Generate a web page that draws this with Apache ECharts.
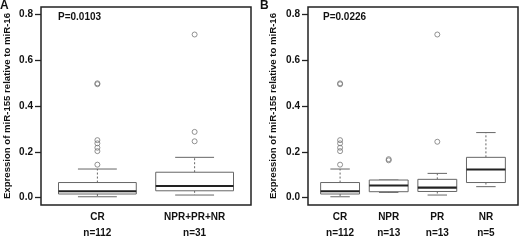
<!DOCTYPE html>
<html>
<head>
<meta charset="utf-8">
<script src="https://cdn.jsdelivr.net/npm/echarts@6/dist/echarts.min.js"></script>
<style>
html, body { margin: 0; padding: 0; background: #fff; }
#chart { width: 520px; height: 241px; }
</style>
</head>
<body>
<div id="chart"></div>
<script>
// panel A
var catsA = ['CR', 'NPR+PR+NR'];
var countsA = ['n=112', 'n=31'];
// low whisker, q1, median, q3, high whisker
var statsA = [
    [0.004, 0.016, 0.028, 0.066, 0.125],
    [0.0115, 0.030, 0.051, 0.111, 0.176]
];
var outliersA = [
    [0.495, 0.499, 0.251, 0.237, 0.218, 0.203, 0.144],
    [0.712, 0.287, 0.246]
];
var pA = 'P=0.0103';

// panel B
var catsB = ['CR', 'NPR', 'PR', 'NR'];
var countsB = ['n=112', 'n=13', 'n=13', 'n=5'];
var statsB = [
    [0.004, 0.016, 0.028, 0.066, 0.125],
    [0.023, 0.026, 0.053, 0.077, 0.077],
    [0.0115, 0.027, 0.044, 0.080, 0.106],
    [0.048, 0.066, 0.123, 0.176, 0.284]
];
var outliersB = [
    [0.495, 0.499, 0.251, 0.237, 0.218, 0.203, 0.144],
    [0.163, 0.168],
    [0.712, 0.244],
    []
];
var pB = 'P=0.0226';

var yTicks = [0, 0.2, 0.4, 0.6, 0.8];
var yTitle = 'Expression of miR-155 relative to miR-16';

var FONT = "'Liberation Sans', Arial, sans-serif";

function boxData(stats) {
    var out = [];
    for (var i = 0; i < stats.length; ++i) {
        out.push([i + 1].concat(stats[i]));
    }
    return out;
}
function outlierData(outs) {
    var out = [];
    for (var i = 0; i < outs.length; ++i) {
        for (var j = 0; j < outs[i].length; ++j) {
            out.push([i + 1, outs[i][j]]);
        }
    }
    return out;
}
function positions(cats) {
    var out = [];
    for (var i = 0; i < cats.length; ++i) out.push(i + 1);
    return out;
}

function renderBox(params, api) {
    var x = api.value(0);
    var lo = api.coord([x, api.value(1)]);
    var q1 = api.coord([x, api.value(2)]);
    var md = api.coord([x, api.value(3)]);
    var q3 = api.coord([x, api.value(4)]);
    var hi = api.coord([x, api.value(5)]);
    var w = api.size([0.8, 0])[0];
    var cx = lo[0];
    var gray = '#666';
    var dashed = { stroke: gray, lineWidth: 1, lineDash: [2, 2] };
    var solid = { stroke: gray, lineWidth: 1 };
    return {
        type: 'group',
        children: [
            { type: 'line', shape: { x1: cx, y1: q3[1], x2: cx, y2: hi[1] }, style: dashed },
            { type: 'line', shape: { x1: cx, y1: q1[1], x2: cx, y2: lo[1] }, style: dashed },
            { type: 'line', shape: { x1: cx - w / 4, y1: hi[1], x2: cx + w / 4, y2: hi[1] }, style: solid },
            { type: 'line', shape: { x1: cx - w / 4, y1: lo[1], x2: cx + w / 4, y2: lo[1] }, style: solid },
            { type: 'rect', shape: { x: cx - w / 2, y: q3[1], width: w, height: q1[1] - q3[1] },
              style: { fill: '#fff', stroke: gray, lineWidth: 1 } },
            { type: 'line', shape: { x1: cx - w / 2, y1: md[1], x2: cx + w / 2, y2: md[1] },
              style: { stroke: '#222', lineWidth: 2.2 } }
        ]
    };
}

function makeX(idx, cats, counts, min, max) {
    return {
        type: 'value', gridIndex: idx, min: min, max: max,
        axisLine: { show: false }, axisTick: { show: false }, splitLine: { show: false },
        axisLabel: {
            customValues: positions(cats),
            margin: 4,
            lineHeight: 16,
            fontSize: 10, fontWeight: 'bold', color: '#111', fontFamily: FONT,
            formatter: function (v) {
                var i = Math.round(v) - 1;
                return cats[i] + '\n' + counts[i];
            }
        }
    };
}
function makeY(idx, gap) {
    return {
        type: 'value', gridIndex: idx, min: -0.032, max: 0.832,
        name: yTitle, nameLocation: 'middle', nameGap: gap,
        nameTextStyle: { fontSize: 9.6, fontWeight: 'bold', color: '#111', fontFamily: FONT },
        axisLine: { show: false }, splitLine: { show: false },
        axisTick: { customValues: yTicks, length: 6, lineStyle: { color: '#222', width: 1.3 } },
        axisLabel: {
            customValues: yTicks, margin: 8,
            fontSize: 10, fontWeight: 'bold', color: '#111', fontFamily: FONT,
            formatter: function (v) { return v.toFixed(1); }
        }
    };
}

var chart = echarts.init(document.getElementById('chart'), null, { renderer: 'canvas' });
var titleStyle = { fontSize: 12, fontWeight: 'bold', color: '#111', fontFamily: FONT };
var pStyle = { fontSize: 10, fontWeight: 'bold', color: '#111', fontFamily: FONT };
chart.setOption({
    animation: false,
    backgroundColor: '#fff',
    title: [
        { text: 'A', left: 0, top: 0, padding: 0, textStyle: titleStyle },
        { text: pA, left: 58, top: 12, padding: 0, textStyle: pStyle },
        { text: 'B', left: 260, top: 0, padding: 0, textStyle: titleStyle },
        { text: pB, left: 323, top: 12, padding: 0, textStyle: pStyle }
    ],
    grid: [
        { left: 41, top: 7, width: 210, height: 202.5, show: true,
          borderColor: '#222', borderWidth: 1.5, backgroundColor: 'transparent' },
        { left: 308, top: 7, width: 210, height: 202.5, show: true,
          borderColor: '#222', borderWidth: 1.5, backgroundColor: 'transparent' }
    ],
    xAxis: [
        makeX(0, catsA, countsA, 0.42, 2.58),
        makeX(1, catsB, countsB, 0.34, 4.66)
    ],
    yAxis: [makeY(0, 29), makeY(1, 30)],
    series: [
        { type: 'custom', xAxisIndex: 0, yAxisIndex: 0, renderItem: renderBox,
          encode: { x: 0, y: [1, 2, 3, 4, 5] }, data: boxData(statsA) },
        { type: 'scatter', xAxisIndex: 0, yAxisIndex: 0, symbol: 'circle', symbolSize: 5,
          itemStyle: { color: 'transparent', borderColor: '#777', borderWidth: 1 },
          data: outlierData(outliersA) },
        { type: 'custom', xAxisIndex: 1, yAxisIndex: 1, renderItem: renderBox,
          encode: { x: 0, y: [1, 2, 3, 4, 5] }, data: boxData(statsB) },
        { type: 'scatter', xAxisIndex: 1, yAxisIndex: 1, symbol: 'circle', symbolSize: 5,
          itemStyle: { color: 'transparent', borderColor: '#777', borderWidth: 1 },
          data: outlierData(outliersB) }
    ]
});
</script>
</body>
</html>
